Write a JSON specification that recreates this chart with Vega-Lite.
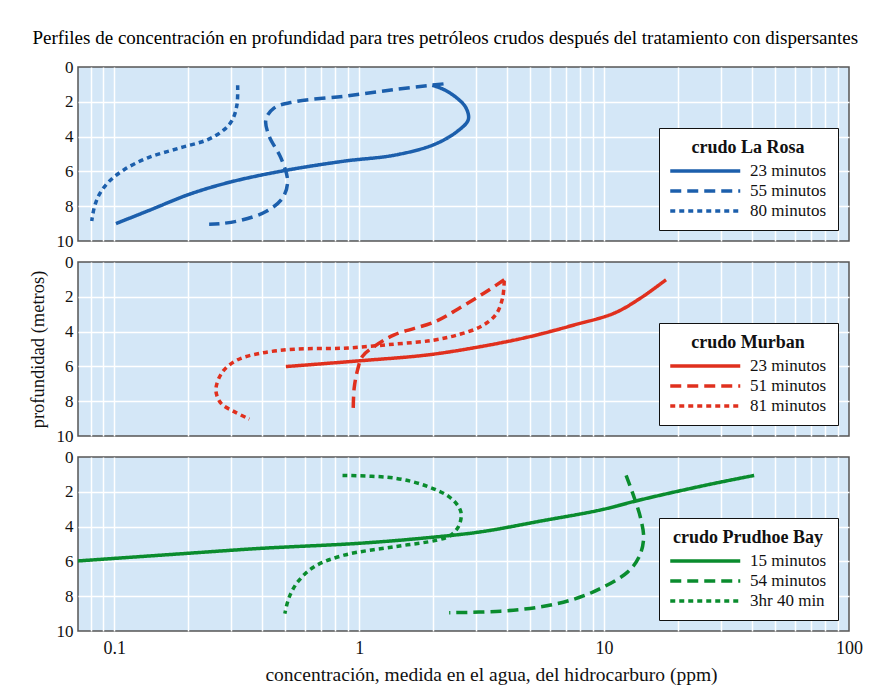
{
  "$schema": "https://vega.github.io/schema/vega-lite/v6.json",
  "padding": {"left": 27, "top": 29, "right": 20, "bottom": 3},
  "background": "white",
  "title": {"text": "Perfiles de concentración en profundidad para tres petróleos crudos después del tratamiento con dispersantes", "font": "Liberation Serif", "fontSize": 19, "fontWeight": "normal", "color": "black", "anchor": "middle", "offset": 9},
  "datasets": {
    "d": [
      {"p": "La Rosa", "s": "23 minutos", "o": 1, "c": 1.99, "d": 1.05},
      {"p": "La Rosa", "s": "23 minutos", "o": 2, "c": 2.22, "d": 1.30},
      {"p": "La Rosa", "s": "23 minutos", "o": 3, "c": 2.52, "d": 1.81},
      {"p": "La Rosa", "s": "23 minutos", "o": 4, "c": 2.73, "d": 2.35},
      {"p": "La Rosa", "s": "23 minutos", "o": 5, "c": 2.79, "d": 3.02},
      {"p": "La Rosa", "s": "23 minutos", "o": 6, "c": 2.52, "d": 3.69},
      {"p": "La Rosa", "s": "23 minutos", "o": 7, "c": 2.02, "d": 4.46},
      {"p": "La Rosa", "s": "23 minutos", "o": 8, "c": 1.39, "d": 5.07},
      {"p": "La Rosa", "s": "23 minutos", "o": 9, "c": 0.869, "d": 5.41},
      {"p": "La Rosa", "s": "23 minutos", "o": 10, "c": 0.497, "d": 5.95},
      {"p": "La Rosa", "s": "23 minutos", "o": 11, "c": 0.30, "d": 6.6},
      {"p": "La Rosa", "s": "23 minutos", "o": 12, "c": 0.202, "d": 7.32},
      {"p": "La Rosa", "s": "23 minutos", "o": 13, "c": 0.14, "d": 8.22},
      {"p": "La Rosa", "s": "23 minutos", "o": 14, "c": 0.1016, "d": 9.0},
      {"p": "La Rosa", "s": "55 minutos", "o": 1, "c": 2.21, "d": 0.97},
      {"p": "La Rosa", "s": "55 minutos", "o": 2, "c": 1.39, "d": 1.30},
      {"p": "La Rosa", "s": "55 minutos", "o": 3, "c": 0.869, "d": 1.68},
      {"p": "La Rosa", "s": "55 minutos", "o": 4, "c": 0.543, "d": 2.0},
      {"p": "La Rosa", "s": "55 minutos", "o": 5, "c": 0.45, "d": 2.35},
      {"p": "La Rosa", "s": "55 minutos", "o": 6, "c": 0.416, "d": 3.02},
      {"p": "La Rosa", "s": "55 minutos", "o": 7, "c": 0.429, "d": 3.98},
      {"p": "La Rosa", "s": "55 minutos", "o": 8, "c": 0.479, "d": 5.22},
      {"p": "La Rosa", "s": "55 minutos", "o": 9, "c": 0.51, "d": 6.56},
      {"p": "La Rosa", "s": "55 minutos", "o": 10, "c": 0.487, "d": 7.52},
      {"p": "La Rosa", "s": "55 minutos", "o": 11, "c": 0.42, "d": 8.28},
      {"p": "La Rosa", "s": "55 minutos", "o": 12, "c": 0.329, "d": 8.81},
      {"p": "La Rosa", "s": "55 minutos", "o": 13, "c": 0.273, "d": 9.0},
      {"p": "La Rosa", "s": "55 minutos", "o": 14, "c": 0.244, "d": 9.04},
      {"p": "La Rosa", "s": "80 minutos", "o": 1, "c": 0.319, "d": 1.05},
      {"p": "La Rosa", "s": "80 minutos", "o": 2, "c": 0.317, "d": 2.16},
      {"p": "La Rosa", "s": "80 minutos", "o": 3, "c": 0.304, "d": 3.02},
      {"p": "La Rosa", "s": "80 minutos", "o": 4, "c": 0.281, "d": 3.6},
      {"p": "La Rosa", "s": "80 minutos", "o": 5, "c": 0.241, "d": 4.17},
      {"p": "La Rosa", "s": "80 minutos", "o": 6, "c": 0.182, "d": 4.68},
      {"p": "La Rosa", "s": "80 minutos", "o": 7, "c": 0.137, "d": 5.22},
      {"p": "La Rosa", "s": "80 minutos", "o": 8, "c": 0.11, "d": 5.89},
      {"p": "La Rosa", "s": "80 minutos", "o": 9, "c": 0.0955, "d": 6.56},
      {"p": "La Rosa", "s": "80 minutos", "o": 10, "c": 0.0869, "d": 7.32},
      {"p": "La Rosa", "s": "80 minutos", "o": 11, "c": 0.0828, "d": 8.09},
      {"p": "La Rosa", "s": "80 minutos", "o": 12, "c": 0.0809, "d": 8.85},
      {"p": "Murban", "s": "23 minutos", "o": 1, "c": 0.502, "d": 6.01},
      {"p": "Murban", "s": "23 minutos", "o": 2, "c": 1.0, "d": 5.68},
      {"p": "Murban", "s": "23 minutos", "o": 3, "c": 1.9, "d": 5.34},
      {"p": "Murban", "s": "23 minutos", "o": 4, "c": 3.14, "d": 4.86},
      {"p": "Murban", "s": "23 minutos", "o": 5, "c": 5.01, "d": 4.28},
      {"p": "Murban", "s": "23 minutos", "o": 6, "c": 7.54, "d": 3.62},
      {"p": "Murban", "s": "23 minutos", "o": 7, "c": 11.0, "d": 2.94},
      {"p": "Murban", "s": "23 minutos", "o": 8, "c": 14.1, "d": 2.07},
      {"p": "Murban", "s": "23 minutos", "o": 9, "c": 17.9, "d": 1.02},
      {"p": "Murban", "s": "51 minutos", "o": 1, "c": 3.91, "d": 1.02},
      {"p": "Murban", "s": "51 minutos", "o": 2, "c": 3.24, "d": 1.78},
      {"p": "Murban", "s": "51 minutos", "o": 3, "c": 2.6, "d": 2.6},
      {"p": "Murban", "s": "51 minutos", "o": 4, "c": 2.05, "d": 3.42},
      {"p": "Murban", "s": "51 minutos", "o": 5, "c": 1.39, "d": 4.19},
      {"p": "Murban", "s": "51 minutos", "o": 6, "c": 1.15, "d": 4.86},
      {"p": "Murban", "s": "51 minutos", "o": 7, "c": 1.03, "d": 5.43},
      {"p": "Murban", "s": "51 minutos", "o": 8, "c": 0.985, "d": 6.2},
      {"p": "Murban", "s": "51 minutos", "o": 9, "c": 0.954, "d": 7.25},
      {"p": "Murban", "s": "51 minutos", "o": 10, "c": 0.945, "d": 8.6},
      {"p": "Murban", "s": "81 minutos", "o": 1, "c": 3.91, "d": 1.08},
      {"p": "Murban", "s": "81 minutos", "o": 2, "c": 3.85, "d": 2.07},
      {"p": "Murban", "s": "81 minutos", "o": 3, "c": 3.61, "d": 3.03},
      {"p": "Murban", "s": "81 minutos", "o": 4, "c": 3.14, "d": 3.71},
      {"p": "Murban", "s": "81 minutos", "o": 5, "c": 2.52, "d": 4.19},
      {"p": "Murban", "s": "81 minutos", "o": 6, "c": 2.0, "d": 4.5},
      {"p": "Murban", "s": "81 minutos", "o": 7, "c": 1.39, "d": 4.72},
      {"p": "Murban", "s": "81 minutos", "o": 8, "c": 0.869, "d": 4.95},
      {"p": "Murban", "s": "81 minutos", "o": 9, "c": 0.543, "d": 5.01},
      {"p": "Murban", "s": "81 minutos", "o": 10, "c": 0.397, "d": 5.24},
      {"p": "Murban", "s": "81 minutos", "o": 11, "c": 0.319, "d": 5.62},
      {"p": "Murban", "s": "81 minutos", "o": 12, "c": 0.277, "d": 6.3},
      {"p": "Murban", "s": "81 minutos", "o": 13, "c": 0.26, "d": 7.35},
      {"p": "Murban", "s": "81 minutos", "o": 14, "c": 0.273, "d": 8.13},
      {"p": "Murban", "s": "81 minutos", "o": 15, "c": 0.309, "d": 8.6},
      {"p": "Murban", "s": "81 minutos", "o": 16, "c": 0.356, "d": 9.03},
      {"p": "Prudhoe Bay", "s": "15 minutos", "o": 1, "c": 0.07, "d": 5.98},
      {"p": "Prudhoe Bay", "s": "15 minutos", "o": 2, "c": 0.202, "d": 5.53},
      {"p": "Prudhoe Bay", "s": "15 minutos", "o": 3, "c": 0.397, "d": 5.25},
      {"p": "Prudhoe Bay", "s": "15 minutos", "o": 4, "c": 1.0, "d": 4.96},
      {"p": "Prudhoe Bay", "s": "15 minutos", "o": 5, "c": 1.9, "d": 4.64},
      {"p": "Prudhoe Bay", "s": "15 minutos", "o": 6, "c": 3.14, "d": 4.3},
      {"p": "Prudhoe Bay", "s": "15 minutos", "o": 7, "c": 5.52, "d": 3.68},
      {"p": "Prudhoe Bay", "s": "15 minutos", "o": 8, "c": 9.69, "d": 3.04},
      {"p": "Prudhoe Bay", "s": "15 minutos", "o": 9, "c": 14.1, "d": 2.46},
      {"p": "Prudhoe Bay", "s": "15 minutos", "o": 10, "c": 26.4, "d": 1.6},
      {"p": "Prudhoe Bay", "s": "15 minutos", "o": 11, "c": 41, "d": 1.06},
      {"p": "Prudhoe Bay", "s": "54 minutos", "o": 1, "c": 12.3, "d": 1.06},
      {"p": "Prudhoe Bay", "s": "54 minutos", "o": 2, "c": 13.3, "d": 2.37},
      {"p": "Prudhoe Bay", "s": "54 minutos", "o": 3, "c": 14.1, "d": 3.52},
      {"p": "Prudhoe Bay", "s": "54 minutos", "o": 4, "c": 14.5, "d": 4.68},
      {"p": "Prudhoe Bay", "s": "54 minutos", "o": 5, "c": 13.9, "d": 5.74},
      {"p": "Prudhoe Bay", "s": "54 minutos", "o": 6, "c": 12.5, "d": 6.6},
      {"p": "Prudhoe Bay", "s": "54 minutos", "o": 7, "c": 9.69, "d": 7.55},
      {"p": "Prudhoe Bay", "s": "54 minutos", "o": 8, "c": 7.54, "d": 8.17},
      {"p": "Prudhoe Bay", "s": "54 minutos", "o": 9, "c": 5.52, "d": 8.61},
      {"p": "Prudhoe Bay", "s": "54 minutos", "o": 10, "c": 3.78, "d": 8.86},
      {"p": "Prudhoe Bay", "s": "54 minutos", "o": 11, "c": 2.33, "d": 8.95},
      {"p": "Prudhoe Bay", "s": "3hr 40 min", "o": 1, "c": 0.855, "d": 1.06},
      {"p": "Prudhoe Bay", "s": "3hr 40 min", "o": 2, "c": 1.39, "d": 1.21},
      {"p": "Prudhoe Bay", "s": "3hr 40 min", "o": 3, "c": 1.9, "d": 1.69},
      {"p": "Prudhoe Bay", "s": "3hr 40 min", "o": 4, "c": 2.37, "d": 2.37},
      {"p": "Prudhoe Bay", "s": "3hr 40 min", "o": 5, "c": 2.6, "d": 3.14},
      {"p": "Prudhoe Bay", "s": "3hr 40 min", "o": 6, "c": 2.56, "d": 3.91},
      {"p": "Prudhoe Bay", "s": "3hr 40 min", "o": 7, "c": 2.37, "d": 4.49},
      {"p": "Prudhoe Bay", "s": "3hr 40 min", "o": 8, "c": 2.09, "d": 4.77},
      {"p": "Prudhoe Bay", "s": "3hr 40 min", "o": 9, "c": 1.39, "d": 5.16},
      {"p": "Prudhoe Bay", "s": "3hr 40 min", "o": 10, "c": 0.869, "d": 5.64},
      {"p": "Prudhoe Bay", "s": "3hr 40 min", "o": 11, "c": 0.655, "d": 6.31},
      {"p": "Prudhoe Bay", "s": "3hr 40 min", "o": 12, "c": 0.561, "d": 7.18},
      {"p": "Prudhoe Bay", "s": "3hr 40 min", "o": 13, "c": 0.518, "d": 8.05},
      {"p": "Prudhoe Bay", "s": "3hr 40 min", "o": 14, "c": 0.497, "d": 9.0}
    ]
  },
  "data": {"name": "d"},
  "spacing": 2,
  "resolve": {"scale": {"strokeDash": "independent"}, "legend": {"strokeDash": "independent"}},
  "vconcat": [
    {
      "width": 771, "height": 174,
      "transform": [{"filter": "datum.p == 'La Rosa'"}],
      "mark": {"type": "line", "color": "#1c5fac", "strokeWidth": 3.5, "interpolate": "catmull-rom", "clip": true},
      "encoding": {
        "x": {"field": "c", "type": "quantitative", "scale": {"type": "log", "domain": [0.0711, 100], "nice": false},
              "axis": {"values": [0.08,0.09,0.1,0.2,0.3,0.4,0.5,0.6,0.7,0.8,0.9,1,2,3,4,5,6,7,8,9,10,20,30,40,50,60,70,80,90,100], "labels": false, "ticks": false, "domain": false, "title": null, "grid": true, "gridColor": "white", "gridWidth": 1.5, "gridOpacity": {"condition": {"test": "datum.value >= 100", "value": 0}, "value": 1}}},
        "y": {"field": "d", "type": "quantitative", "scale": {"domain": [0, 10], "reverse": true, "nice": false},
              "axis": {"values": [0,2,4,6,8,10], "title": null, "ticks": false, "domain": false, "labelFontSize": 17, "labelPadding": 5, "labelFlush": false, "labelColor": "#111", "grid": true, "gridColor": "white", "gridWidth": 1.5, "gridOpacity": {"condition": {"test": "datum.value == 0 || datum.value == 10", "value": 0}, "value": 1}}},
        "strokeDash": {"field": "s", "type": "nominal", "scale": {"domain": ["23 minutos", "55 minutos", "80 minutos"], "range": [[1, 0], [11, 6], [5, 4]]},
              "legend": {"title": "crudo La Rosa", "symbolStrokeColor": "#1c5fac"}},
        "order": {"field": "o", "type": "quantitative"}
      }
    },
    {
      "width": 771, "height": 174,
      "transform": [{"filter": "datum.p == 'Murban'"}],
      "mark": {"type": "line", "color": "#e0301e", "strokeWidth": 3.5, "interpolate": "catmull-rom", "clip": true},
      "encoding": {
        "x": {"field": "c", "type": "quantitative", "scale": {"type": "log", "domain": [0.0711, 100], "nice": false},
              "axis": {"values": [0.08,0.09,0.1,0.2,0.3,0.4,0.5,0.6,0.7,0.8,0.9,1,2,3,4,5,6,7,8,9,10,20,30,40,50,60,70,80,90,100], "labels": false, "ticks": false, "domain": false, "title": null, "grid": true, "gridColor": "white", "gridWidth": 1.5, "gridOpacity": {"condition": {"test": "datum.value >= 100", "value": 0}, "value": 1}}},
        "y": {"field": "d", "type": "quantitative", "scale": {"domain": [0, 10], "reverse": true, "nice": false},
              "axis": {"values": [0,2,4,6,8,10], "title": "profundidad (metros)", "titleFontSize": 18.5, "titleFontWeight": "normal", "titlePadding": 9, "ticks": false, "domain": false, "labelFontSize": 17, "labelPadding": 5, "labelFlush": false, "labelColor": "#111", "grid": true, "gridColor": "white", "gridWidth": 1.5, "gridOpacity": {"condition": {"test": "datum.value == 0 || datum.value == 10", "value": 0}, "value": 1}}},
        "strokeDash": {"field": "s", "type": "nominal", "scale": {"domain": ["23 minutos", "51 minutos", "81 minutos"], "range": [[1, 0], [11, 6], [5, 4]]},
              "legend": {"title": "crudo Murban", "symbolStrokeColor": "#e0301e"}},
        "order": {"field": "o", "type": "quantitative"}
      }
    },
    {
      "width": 771, "height": 174,
      "transform": [{"filter": "datum.p == 'Prudhoe Bay'"}],
      "mark": {"type": "line", "color": "#0a8c2e", "strokeWidth": 3.5, "interpolate": "catmull-rom", "clip": true},
      "encoding": {
        "x": {"field": "c", "type": "quantitative", "scale": {"type": "log", "domain": [0.0711, 100], "nice": false},
              "axis": {"values": [0.08,0.09,0.1,0.2,0.3,0.4,0.5,0.6,0.7,0.8,0.9,1,2,3,4,5,6,7,8,9,10,20,30,40,50,60,70,80,90,100], "labelExpr": "(datum.value == 0.1 || datum.value == 1 || datum.value == 10 || datum.value == 100) ? format(datum.value, '~g') : ''", "labelOverlap": false, "labelFlush": false, "labelFontSize": 18, "labelPadding": 8, "labelColor": "#111", "ticks": false, "domain": false, "title": "concentración, medida en el agua, del hidrocarburo (ppm)", "titleFontSize": 19.5, "titleFontWeight": "normal", "titlePadding": 8, "titleX": 413, "grid": true, "gridColor": "white", "gridWidth": 1.5, "gridOpacity": {"condition": {"test": "datum.value >= 100", "value": 0}, "value": 1}}},
        "y": {"field": "d", "type": "quantitative", "scale": {"domain": [0, 10], "reverse": true, "nice": false},
              "axis": {"values": [0,2,4,6,8,10], "title": null, "ticks": false, "domain": false, "labelFontSize": 17, "labelPadding": 5, "labelFlush": false, "labelColor": "#111", "grid": true, "gridColor": "white", "gridWidth": 1.5, "gridOpacity": {"condition": {"test": "datum.value == 0 || datum.value == 10", "value": 0}, "value": 1}}},
        "strokeDash": {"field": "s", "type": "nominal", "scale": {"domain": ["15 minutos", "54 minutos", "3hr 40 min"], "range": [[1, 0], [11, 6], [5, 4]]},
              "legend": {"title": "crudo Prudhoe Bay", "symbolStrokeColor": "#0a8c2e"}},
        "order": {"field": "o", "type": "quantitative"}
      }
    }
  ],
  "config": {
    "font": "Liberation Serif",
    "view": {"fill": "#d4e7f7", "stroke": "#555555", "strokeWidth": 1.5},
    "axis": {"titleColor": "#111", "titleFont": "Liberation Serif", "labelFont": "Liberation Serif"},
    "legend": {"orient": "bottom-right", "offset": 11, "fillColor": "white", "strokeColor": "#111", "padding": 11,
               "titleFont": "Liberation Serif", "titleFontSize": 18, "titleFontWeight": "bold", "titleColor": "#111", "titleAnchor": "middle", "titlePadding": 5,
               "labelFont": "Liberation Serif", "labelFontSize": 17, "labelColor": "#111", "labelOffset": 62,
               "symbolType": "M-1.25,0H8.75", "symbolSize": 196, "symbolStrokeWidth": 3.5, "rowPadding": 3}
  }
}
